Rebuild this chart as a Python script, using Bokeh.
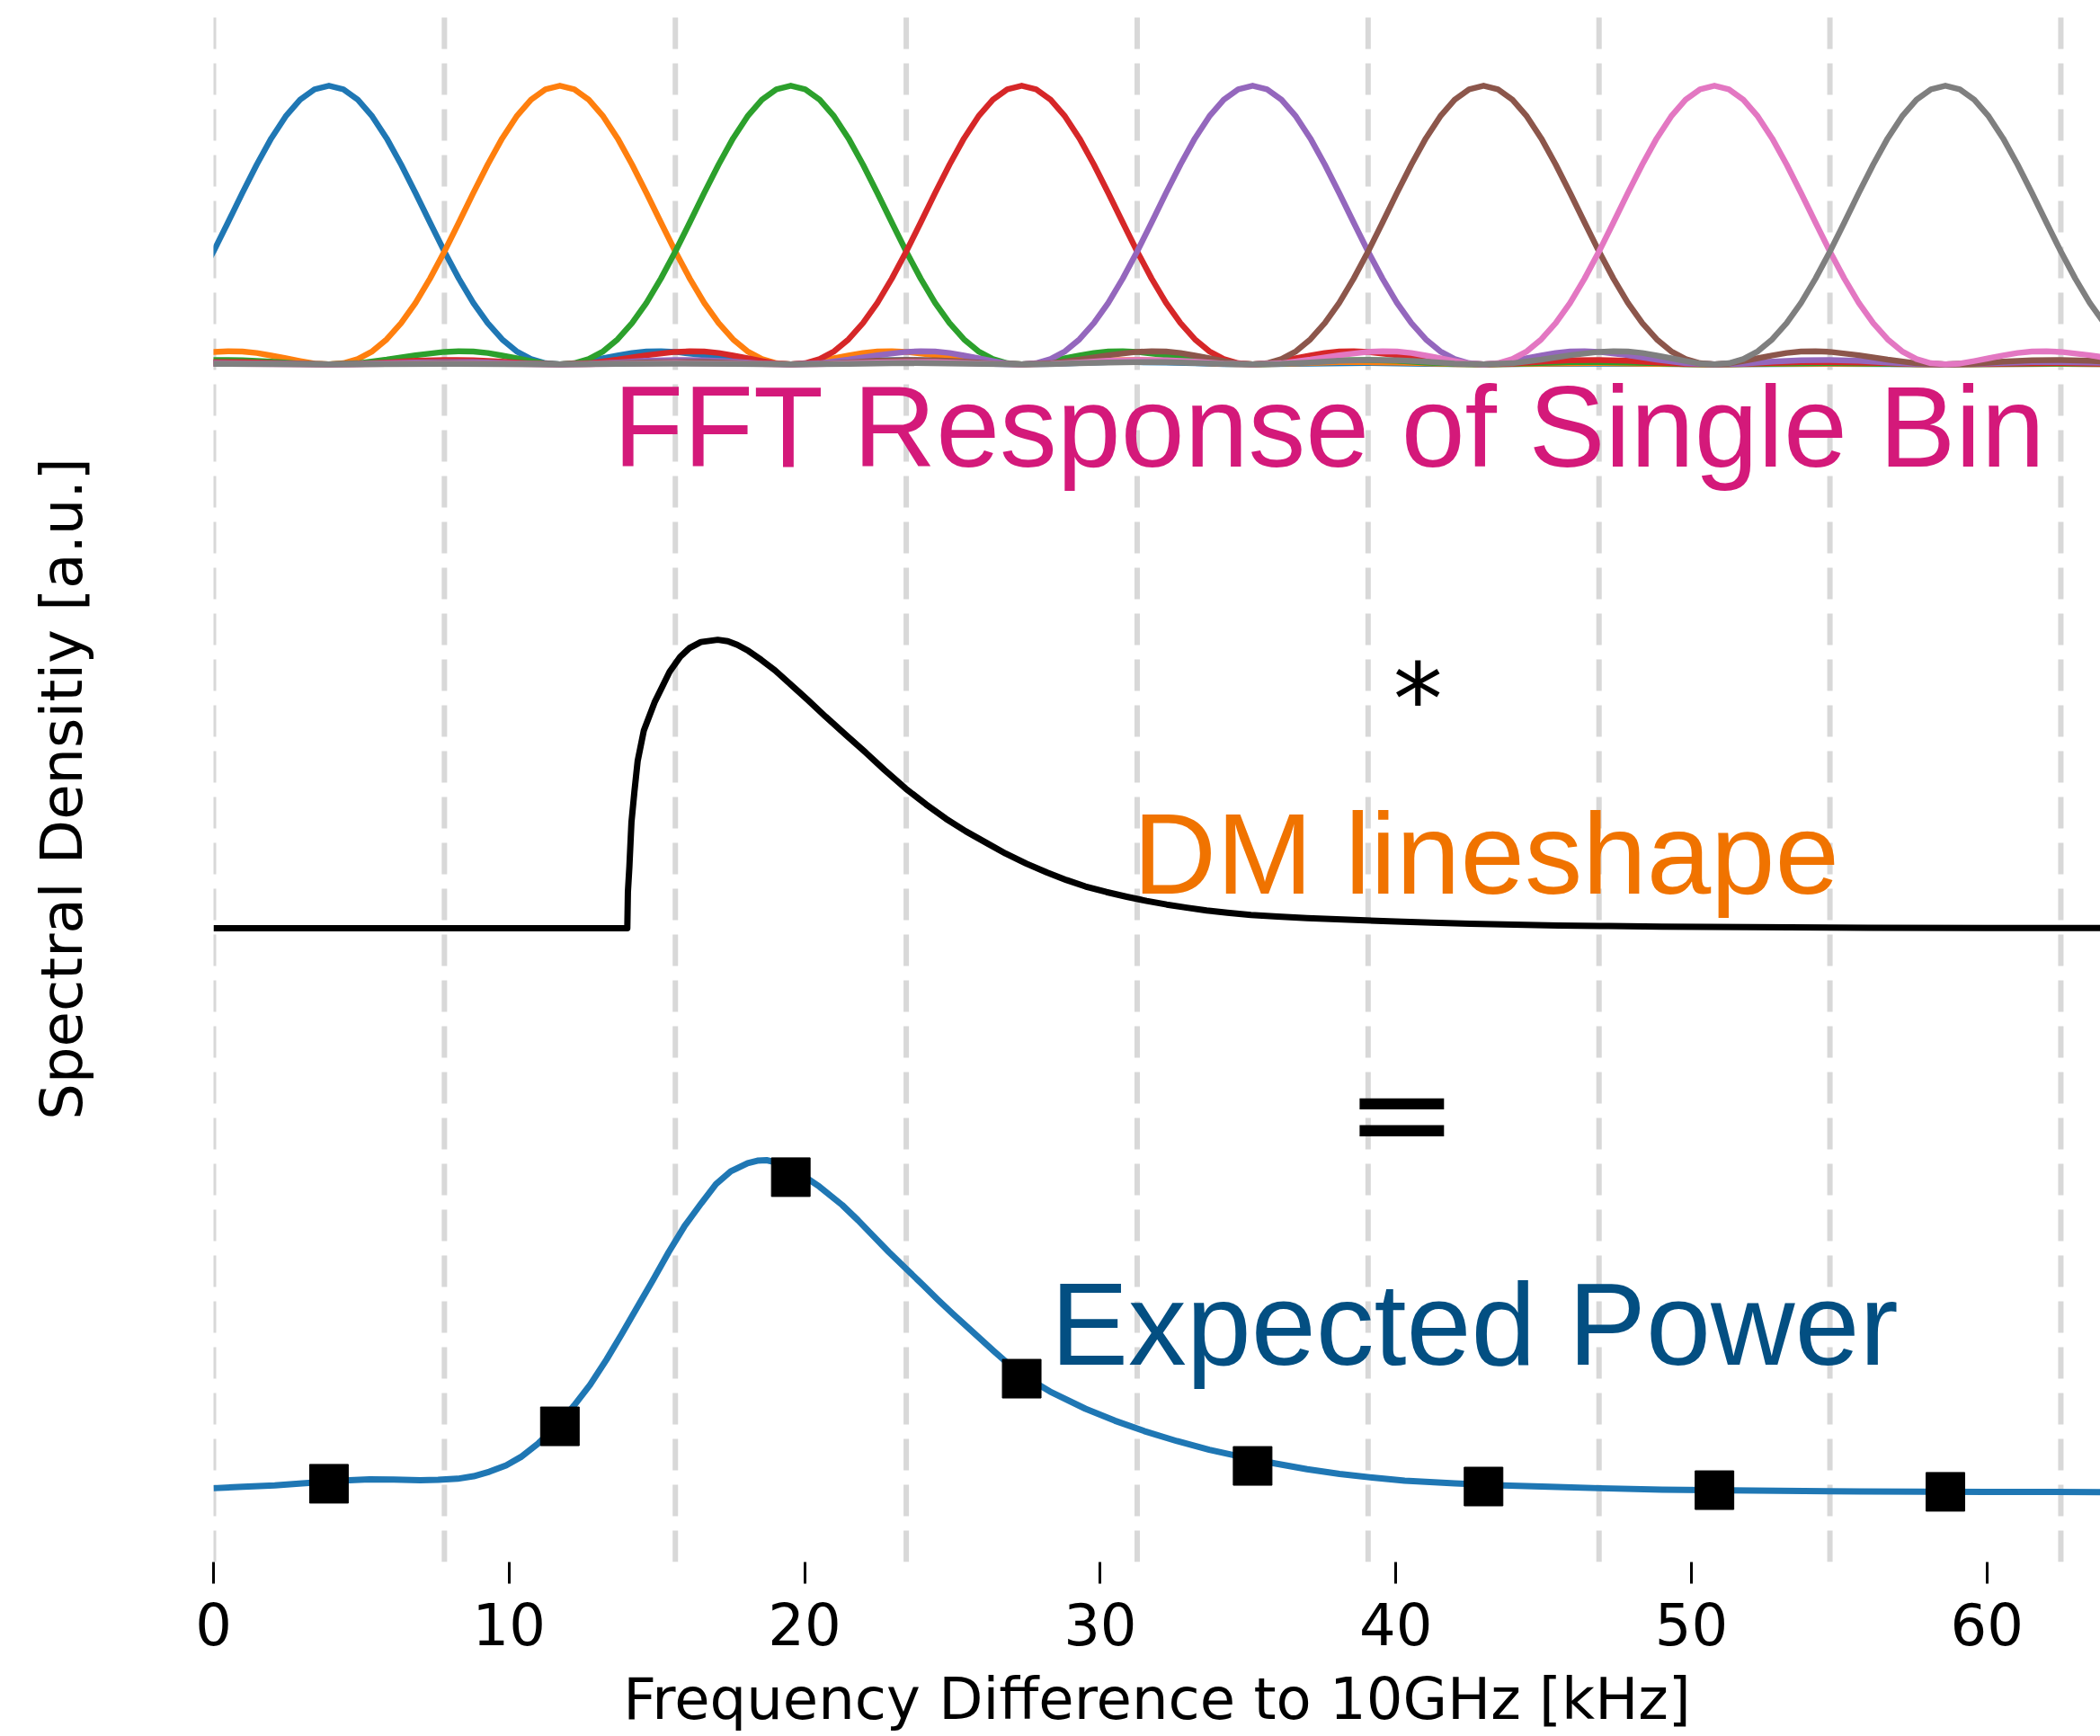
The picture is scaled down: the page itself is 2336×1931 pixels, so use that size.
import numpy as np
from bokeh.plotting import figure
from bokeh.models import Range1d, Label, FixedTicker
from bokeh.embed import file_html
from bokeh.resources import INLINE

# ---------------------------------------------------------------- data
BIN_WIDTH = 7.8125  # kHz per FFT bin

bin_edges = [0.0, 7.8125, 15.625, 23.4375, 31.25, 39.0625, 46.875, 54.6875, 62.5]
bin_centers = [3.906, 11.719, 19.531, 27.344, 35.156, 42.969, 50.781, 58.594]
bin_colors = ["#1f77b4", "#ff7f0e", "#2ca02c", "#d62728",
              "#9467bd", "#8c564b", "#e377c2", "#7f7f7f"]

# response of a single FFT bin vs. distance from its centre (in bins), one side
resp_offset = [0.0, 0.0625, 0.125, 0.1875, 0.25, 0.3125, 0.375, 0.4375, 0.5,
               0.5625, 0.625, 0.6875, 0.75, 0.8125, 0.875, 0.9375, 1.0,
               1.0625, 1.125, 1.1875, 1.25, 1.3125, 1.375, 1.4375, 1.5,
               1.625, 1.75, 1.875, 2.0, 2.125, 2.25, 2.375, 2.5, 2.625, 2.75,
               2.875, 3.0, 3.125, 3.25, 3.375, 3.5, 3.625, 3.75, 3.875, 4.0,
               4.25, 4.5, 4.75, 5.0, 5.25, 5.5, 5.75, 6.0, 6.25, 6.5, 6.75,
               7.0, 7.25, 7.5, 7.75, 8.0]
resp_value = [1.0, 0.987, 0.950, 0.890, 0.811, 0.717, 0.615, 0.509, 0.405,
              0.308, 0.221, 0.148, 0.090, 0.047, 0.019, 0.004, 0.0,
              0.003, 0.012, 0.022, 0.032, 0.041, 0.046, 0.047, 0.045,
              0.033, 0.017, 0.004, 0.0, 0.003, 0.010, 0.015, 0.016, 0.013,
              0.007, 0.002, 0.0, 0.002, 0.005, 0.008, 0.008, 0.007, 0.004,
              0.001, 0.0, 0.003, 0.005, 0.002, 0.0, 0.002, 0.003, 0.002, 0.0,
              0.001, 0.002, 0.001, 0.0, 0.001, 0.002, 0.001, 0.0]

# dark-matter lineshape [a.u.]
dm_freq = [0.0, 14.0, 14.02, 14.07, 14.14, 14.24, 14.35, 14.56, 14.92, 15.43,
           15.79, 16.1, 16.49, 17.06, 17.4, 17.72, 18.1, 18.53, 19.0, 19.62,
           20.1, 20.71, 21.4, 22.07, 22.7, 23.42, 24.1, 24.78, 25.45, 26.14,
           26.8, 27.5, 28.2, 28.86, 29.5, 30.21, 30.9, 31.57, 32.25, 32.93,
           33.6, 34.3, 35.1, 36.0, 37.0, 38.0, 39.0, 40.0, 41.2, 42.5, 44.0,
           45.5, 47.2, 49.0, 52.0, 56.0, 60.0, 63.85]
dm_value = [0.0, 0.0, 0.13, 0.22, 0.38, 0.49, 0.60, 0.71, 0.81, 0.92,
            0.974, 1.005, 1.027, 1.035, 1.030, 1.017, 0.995, 0.963, 0.925,
            0.866, 0.820, 0.759, 0.693, 0.630, 0.568, 0.501, 0.445, 0.393,
            0.348, 0.307, 0.268, 0.232, 0.200, 0.173, 0.150, 0.130, 0.113,
            0.098, 0.085, 0.074, 0.064, 0.056, 0.048, 0.042, 0.036, 0.032,
            0.028, 0.024, 0.020, 0.016, 0.013, 0.010, 0.008, 0.006, 0.004,
            0.002, 0.001, 0.0005]

# expected power spectrum [a.u.]
power_freq = [0.0, 1.0, 2.07, 3.0, 3.9, 4.6, 5.28, 6.1, 6.99, 7.6, 8.26, 8.8,
              9.33, 9.9, 10.4, 11.0, 11.68, 12.2, 12.74, 13.3, 13.81, 14.35,
              14.87, 15.4, 15.94, 16.5, 17.0, 17.5, 18.07, 18.4, 18.71, 19.2,
              19.78, 20.5, 21.27, 21.8, 22.3, 22.85, 23.41, 24.0, 24.5, 25.0,
              25.54, 26.4, 27.25, 28.3, 29.5, 30.5, 31.49, 32.6, 33.69, 34.8,
              35.9, 37.0, 38.1, 39.2, 40.3, 42.0, 43.6, 45.2, 46.9, 49.0,
              51.3, 55.7, 60.0, 63.85]
power_value = [0.023, 0.028, 0.033, 0.040, 0.047, 0.052, 0.055, 0.054, 0.052,
               0.053, 0.057, 0.066, 0.082, 0.105, 0.135, 0.185, 0.254, 0.320,
               0.394, 0.485, 0.576, 0.675, 0.770, 0.870, 0.964, 1.045, 1.114,
               1.160, 1.189, 1.198, 1.200, 1.188, 1.157, 1.105, 1.039, 0.985,
               0.930, 0.870, 0.813, 0.752, 0.700, 0.650, 0.598, 0.515, 0.436,
               0.370, 0.308, 0.265, 0.228, 0.192, 0.161, 0.135, 0.112, 0.091,
               0.074, 0.061, 0.050, 0.040, 0.033, 0.028, 0.023, 0.018, 0.015,
               0.011, 0.010, 0.009]

# power collected in each FFT bin [a.u.]
bin_power = [0.039, 0.245, 1.139, 0.416, 0.103, 0.029, 0.016, 0.010]

x_ticks = [0, 10, 20, 30, 40, 50, 60]

# vertical stacking of the three panels
OFFSET_POWER = 0.0
OFFSET_DM = 2.032
OFFSET_FFT = 4.055
Y_LOW, Y_HIGH = -0.2419, 5.306
X_LOW, X_HIGH = 0.0, 63.84

# ---------------------------------------------------------------- figure
p = figure(width=2336, height=1931, output_backend="svg", toolbar_location=None,
           x_range=Range1d(X_LOW, X_HIGH), y_range=Range1d(Y_LOW, Y_HIGH),
           min_border_left=237, min_border_right=0, min_border_top=17,
           min_border_bottom=194)
p.outline_line_color = None
p.xgrid.visible = False
p.ygrid.visible = False
p.background_fill_color = "white"
p.border_fill_color = "white"

# bin boundaries
p.segment(x0=bin_edges, y0=[Y_LOW] * len(bin_edges),
          x1=bin_edges, y1=[Y_HIGH] * len(bin_edges),
          line_color="#d8d8d8", line_width=6, line_dash="35 16")

# FFT response of every bin
off = np.array(resp_offset)
val = np.array(resp_value)
prof_off = np.concatenate([-off[::-1], off[1:]])
prof_val = np.concatenate([val[::-1], val[1:]])
for c, col in zip(bin_centers, bin_colors):
    p.line(c + prof_off * BIN_WIDTH, OFFSET_FFT + prof_val,
           line_color=col, line_width=6.5, line_join="round", line_cap="round")

# DM lineshape
p.line(dm_freq, [OFFSET_DM + v for v in dm_value],
       line_color="black", line_width=7, line_join="round")

# expected power
p.line(power_freq, [OFFSET_POWER + v for v in power_value],
       line_color="#1f77b4", line_width=7, line_join="round")
p.scatter(bin_centers, [OFFSET_POWER + v for v in bin_power],
          marker="square", size=43, fill_color="black", line_color="black")

# annotations
HEAD_FONT = "Liberation Sans"
p.add_layout(Label(x=13.53, y=3.829, text="FFT Response of Single Bin",
                   text_font=HEAD_FONT, text_font_size="127.5px",
                   text_color="#d4197a", text_baseline="alphabetic"))
p.add_layout(Label(x=40.75, y=2.849, text="*", text_font="DejaVu Sans",
                   text_font_size="110px", text_color="black",
                   text_align="center", text_baseline="alphabetic"))
p.add_layout(Label(x=31.11, y=2.300, text="DM lineshape",
                   text_font=HEAD_FONT, text_font_size="128.5px",
                   text_color="#f07300", text_baseline="alphabetic"))
p.add_layout(Label(x=40.2, y=1.368, text="=", text_font="DejaVu Sans",
                   text_font_size="150px", text_color="black",
                   text_align="center", text_baseline="alphabetic"))
p.add_layout(Label(x=28.32, y=0.610, text="Expected Power",
                   text_font=HEAD_FONT, text_font_size="129.5px",
                   text_color="#034f82", text_baseline="alphabetic"))

# axes
xa = p.xaxis[0]
xa.ticker = FixedTicker(ticks=x_ticks)
xa.axis_line_color = None
xa.major_tick_in = 0
xa.major_tick_out = 24
xa.major_tick_line_width = 3
xa.major_tick_line_color = "black"
xa.minor_tick_line_color = None
xa.major_label_text_font = "DejaVu Sans"
xa.major_label_text_font_size = "64px"
xa.major_label_text_color = "black"
xa.major_label_standoff = 21
xa.axis_label = "Frequency Difference to 10GHz [kHz]"
xa.axis_label_text_font = "DejaVu Sans"
xa.axis_label_text_font_size = "64px"
xa.axis_label_text_font_style = "normal"
xa.axis_label_text_color = "black"
xa.axis_label_standoff = 20

ya = p.yaxis[0]
ya.ticker = FixedTicker(ticks=[])
ya.axis_line_color = None
ya.major_tick_in = 0
ya.major_tick_out = 0
ya.minor_tick_line_color = None
ya.major_label_standoff = 0
ya.axis_label = "Spectral Densitiy [a.u.]"
ya.axis_label_text_font = "DejaVu Sans"
ya.axis_label_text_font_size = "64px"
ya.axis_label_text_font_style = "normal"
ya.axis_label_text_color = "black"
ya.axis_label_standoff = 132

open("out.html", "w").write(file_html(p, INLINE))
